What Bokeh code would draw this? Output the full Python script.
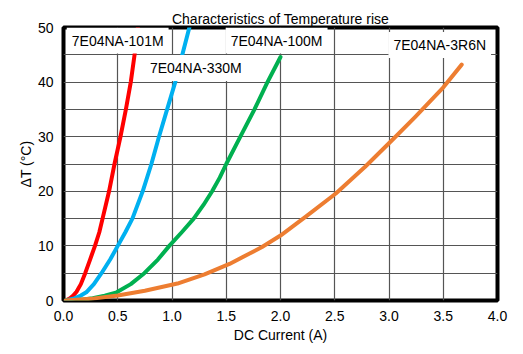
from bokeh.plotting import figure
from bokeh.models import Label, SingleIntervalTicker, FixedTicker, Range1d
from bokeh.embed import file_html
from bokeh.resources import INLINE

# ---- data ----
red_x = [0.02, 0.06, 0.09, 0.12, 0.16, 0.2, 0.245, 0.29, 0.33, 0.36, 0.42, 0.47, 0.525, 0.575, 0.62, 0.655, 0.685]
red_y = [0.0, 0.4, 0.9, 1.6, 3.0, 5.0, 7.5, 10.0, 12.5, 15.0, 20.0, 25.0, 30.0, 35.0, 40.0, 45.0, 50.0]

blue_x = [0.02, 0.1, 0.16, 0.21, 0.28, 0.35, 0.43, 0.5, 0.57, 0.635, 0.73, 0.81, 0.88, 0.955, 1.03, 1.095, 1.16]
blue_y = [0.0, 0.4, 0.9, 1.5, 3.0, 5.0, 7.5, 10.0, 12.5, 15.0, 20.0, 25.0, 30.0, 35.0, 40.0, 45.0, 50.0]

green_x = [0.02, 0.15, 0.27, 0.38, 0.49, 0.62, 0.745, 0.87, 0.975, 1.09, 1.2, 1.29, 1.37, 1.44, 1.5, 1.63, 1.76, 1.88, 2.0]
green_y = [0.0, 0.1, 0.4, 0.9, 1.5, 3.0, 5.0, 7.5, 10.0, 12.5, 15.0, 17.5, 20.0, 22.5, 25.0, 30.0, 35.0, 40.0, 44.6]

orange_x = [0.02, 0.25, 0.5, 0.75, 1.05, 1.3, 1.53, 1.83, 2.0, 2.23, 2.51, 2.78, 3.03, 3.24, 3.49, 3.67]
orange_y = [0.0, 0.3, 0.9, 1.8, 3.1, 4.8, 6.7, 9.8, 11.9, 15.3, 19.6, 24.5, 29.4, 33.6, 38.8, 43.2]

series_names = ["7E04NA-101M", "7E04NA-330M", "7E04NA-100M", "7E04NA-3R6N"]
x_ticks = [0.0, 0.5, 1.0, 1.5, 2.0, 2.5, 3.0, 3.5, 4.0]
y_ticks = [0, 10, 20, 30, 40, 50]

# ---- styling / positions ----
colors = ["#FF0000", "#00B0F0", "#00B050", "#ED7D31"]
label_x = [0.03, 0.75, 1.495, 2.995]
label_y = [47.6, 42.6, 47.6, 46.8]
FONT = "Liberation Sans"

p = figure(width=523, height=354, output_backend="svg", toolbar_location=None,
           x_range=Range1d(0, 4), y_range=Range1d(0, 50),
           min_border_left=63, min_border_right=26, min_border_top=27, min_border_bottom=54,
           title="Characteristics of Temperature rise")
p.background_fill_color = "white"
p.border_fill_color = "white"
p.outline_line_color = "black"
p.outline_line_width = 4

p.title.align = "center"
p.title.text_font = FONT
p.title.text_font_size = "14px"
p.title.text_font_style = "normal"
p.title.text_color = "black"
p.title.standoff = 2
p.title.offset = -2

p.xaxis.ticker = FixedTicker(ticks=x_ticks)
p.xaxis.major_label_overrides = {t: f"{t:.1f}" for t in x_ticks}
p.yaxis.ticker = FixedTicker(ticks=y_ticks)
for ax in (p.xaxis[0], p.yaxis[0]):
    ax.axis_line_color = None
    ax.major_tick_line_color = None
    ax.minor_tick_line_color = None
    ax.major_tick_out = 0
    ax.minor_tick_out = 0
    ax.major_label_text_font = FONT
    ax.major_label_text_font_size = "14px"
    ax.major_label_text_color = "black"
    ax.axis_label_text_font = FONT
    ax.axis_label_text_font_size = "14px"
    ax.axis_label_text_font_style = "normal"
    ax.axis_label_text_color = "black"
p.xaxis.major_label_standoff = 10
p.yaxis.major_label_standoff = 10
p.xaxis.axis_label = "DC Current (A)"
p.yaxis.axis_label = "ΔT (°C)"
p.xaxis.axis_label_standoff = 3
p.yaxis.axis_label_standoff = 1

p.xgrid.ticker = SingleIntervalTicker(interval=0.5)
p.ygrid.ticker = SingleIntervalTicker(interval=5)
for g in (p.xgrid[0], p.ygrid[0]):
    g.grid_line_color = "#555555"
    g.grid_line_width = 1.2

xs = [red_x, blue_x, green_x, orange_x]
ys = [red_y, blue_y, green_y, orange_y]
for x, y, c in zip(xs, ys, colors):
    p.line(x, y, line_color=c, line_width=4, line_cap="round", line_join="round")

for name, lx, ly in zip(series_names, label_x, label_y):
    p.add_layout(Label(x=lx, y=ly, text=name, text_font=FONT, text_font_size="14px",
                       text_color="black", text_baseline="middle", text_align="left",
                       background_fill_color="white", padding=5))

open("out.html", "w").write(file_html(p, INLINE))
